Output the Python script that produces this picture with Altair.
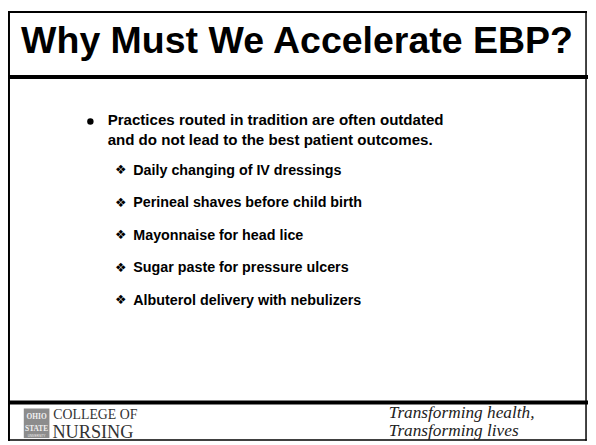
import altair as alt
import pandas as pd

# ---- slide content ----
title_text = ["Why Must We Accelerate EBP?"]
main_bullet_lines = [
    "Practices routed in tradition are often outdated",
    "and do not lead to the best patient outcomes.",
]
sub_items = [
    "Daily changing of IV dressings",
    "Perineal shaves before child birth",
    "Mayonnaise for head lice",
    "Sugar paste for pressure ulcers",
    "Albuterol delivery with nebulizers",
]
footer_left = ["COLLEGE OF", "NURSING"]
logo_words = ["OHIO", "STATE"]
footer_right = ["Transforming health,", "Transforming lives"]

# ---- layout (pixel coordinates of the page) ----
W, H = 596, 445
X = alt.X("x:Q", scale=alt.Scale(domain=[8, W], nice=False, zero=False), axis=None)
Y = alt.Y("y:Q", scale=alt.Scale(domain=[8, H], nice=False, zero=False, reverse=True), axis=None)
X2 = alt.X2("x2:Q")
Y2 = alt.Y2("y2:Q")

layers = []

# white background
bg = pd.DataFrame({"x": [8], "x2": [W], "y": [8], "y2": [H]})
layers.append(alt.Chart(bg).mark_rect(color="white").encode(x=X, x2=X2, y=Y, y2=Y2))

# frame lines
frame = pd.DataFrame([
    {"x": 9, "x2": 594, "y": 9, "y2": 9, "w": 2},       # top
    {"x": 9, "x2": 9, "y": 9, "y2": 443, "w": 2},       # left
    {"x": 594, "x2": 594, "y": 9, "y2": 443, "w": 1.5}, # right
    {"x": 9, "x2": 594, "y": 443, "y2": 443, "w": 1.5}, # bottom
    {"x": 8, "x2": 594, "y": 75, "y2": 75, "w": 4},     # under title
    {"x": 8, "x2": 594, "y": 405, "y2": 405, "w": 4},   # above footer
])
for _, r in frame.iterrows():
    d = pd.DataFrame([r[["x", "x2", "y", "y2"]].to_dict()])
    layers.append(
        alt.Chart(d).mark_rule(color="black", strokeWidth=float(r["w"]), strokeCap="square")
        .encode(x=X, x2=X2, y=Y, y2=Y2)
    )

def text_layer(texts, xs, ys, size, font, weight="normal", style="normal",
               align="left", color="black"):
    d = pd.DataFrame({"t": texts, "x": xs, "y": ys})
    return alt.Chart(d).mark_text(
        align=align, baseline="alphabetic", font=font, fontSize=size,
        fontWeight=weight, fontStyle=style, color=color,
    ).encode(x=X, y=Y, text="t:N")

# title
layers.append(text_layer(title_text, [301], [51], 38, "Liberation Sans", weight="bold", align="center"))

# main bullet
layers.append(
    alt.Chart(pd.DataFrame({"x": [91.5], "y": [120]})).mark_circle(color="black", size=42, opacity=1)
    .encode(x=X, y=Y)
)
layers.append(text_layer(main_bullet_lines, [109, 109], [124 + 19.5 * i for i in range(len(main_bullet_lines))],
                         15.3, "Liberation Sans", weight="bold"))

# sub items
sub_y = [174 + 33 * i for i in range(len(sub_items))]
layers.append(text_layer(["\u2756"] * len(sub_items), [116.5] * len(sub_items), [y - 0.5 for y in sub_y],
                         13, "DejaVu Sans"))
layers.append(text_layer(sub_items, [135] * len(sub_items), sub_y, 14.5, "Liberation Sans", weight="bold"))

# footer logo
logo = pd.DataFrame({"x": [24], "x2": [50], "y": [411], "y2": [441]})
layers.append(alt.Chart(logo).mark_rect(color="#8c8c8c").encode(x=X, x2=X2, y=Y, y2=Y2))
layers.append(text_layer(logo_words, [37, 37], [422, 434], 7.5, "Liberation Serif",
                         weight="bold", align="center", color="#f2f2f2"))
layers.append(text_layer(["UNIVERSITY"], [37], [439.5], 3, "Liberation Sans", align="center", color="#f2f2f2"))

# footer college name
layers.append(text_layer([footer_left[0]], [54], [422], 14, "Liberation Serif", color="#333333"))
layers.append(text_layer([footer_left[1]], [53], [441], 18.5, "Liberation Serif", color="#333333"))

# footer tagline
layers.append(text_layer(footer_right, [394, 394], [421, 439], 17.5, "Liberation Serif",
                         style="italic", color="#222222"))

chart = alt.layer(*layers).properties(
    width=W - 8, height=H - 8, padding=0, autosize="none"
).configure_view(stroke=None)

chart.save("out.html", embed_options={"renderer": "svg", "actions": False})
